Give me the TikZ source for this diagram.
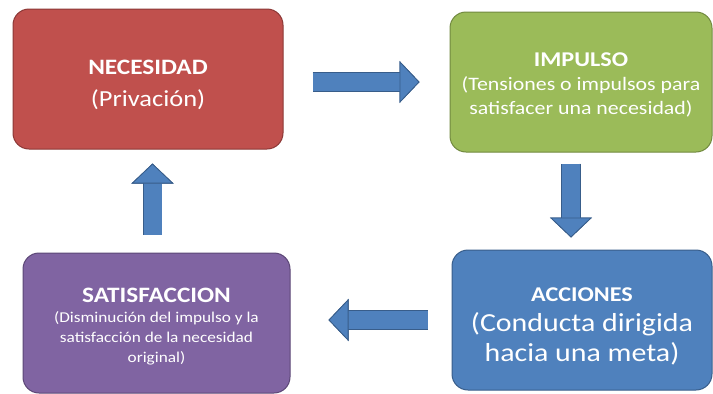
\documentclass[tikz,border=0pt]{standalone}
\usepackage{fontspec}
\setmainfont{Carlito}[FakeStretch=1.15]
\usepackage{tikz}
\usetikzlibrary{arrows.meta}

\definecolor{necred}{HTML}{C0504D}
\definecolor{necedge}{HTML}{8C3836}
\definecolor{impgreen}{HTML}{9BBB59}
\definecolor{impedge}{HTML}{71893F}
\definecolor{accblue}{HTML}{4F81BD}
\definecolor{accedge}{HTML}{385D8A}
\definecolor{satpurple}{HTML}{8064A2}
\definecolor{satedge}{HTML}{5C4776}

\begin{document}
\begin{tikzpicture}
[x = 1pt, y = -1pt,
  box/.style = {rectangle, rounded corners = 16pt, line width = 1pt,
    inner sep = 0pt, minimum height = 140pt, align = center, text = white},
  flow/.style = {line width = 18pt, draw = accblue,
    -{Triangle[width = 42pt, length = 20pt, line width = 0.8pt, color = accedge, fill = accblue]},
    preaction = {draw = accedge, line width = 19.6pt,
      -{Triangle[width = 42pt, length = 20pt, line width = 0.8pt, color = accedge, fill = accedge]}}}]
  \useasboundingbox (0,0) rectangle (713,394);

  % the four stages
  \node [box, fill = necred, draw = necedge, minimum width = 270pt,
    font = \fontsize{23}{32}\selectfont] (nec) at (148,79)
    {\rule{0pt}{26pt}\textbf{\fontsize{22}{22}\selectfont NECESIDAD}\\(Privación)};
  \node [box, fill = impgreen, draw = impedge, minimum width = 262pt,
    font = \fontsize{19}{24}\selectfont] (imp) at (581,82)
    {\rule{0pt}{20pt}\textbf{\fontsize{21}{21}\selectfont IMPULSO}\\(Tensiones o impulsos para\\satisfacer una necesidad)};
  \node [box, fill = accblue, draw = accedge, minimum width = 260pt,
    font = \fontsize{26}{30}\selectfont] (acc) at (582,320)
    {\rule{0pt}{26pt}\textbf{\fontsize{21}{21}\selectfont ACCIONES}\\(Conducta dirigida\\hacia una meta)};
  \node [box, fill = satpurple, draw = satedge, minimum width = 267pt,
    font = \fontsize{15}{20}\selectfont] (sat) at (156.5,323)
    {\rule{0pt}{22pt}\textbf{\fontsize{22}{22}\selectfont SATISFACCION}\\(Disminución del impulso y la\\satisfacción de la necesidad\\original)};

  % the cycle
  \draw [flow, shorten <= 29pt, shorten >= 30pt] (nec.east |- imp.west) -- (imp.west);
  \draw [flow, shorten <= 11pt, shorten >= 12pt] ([xshift = -10pt]imp.south) -- ([xshift = -10pt]imp.south |- acc.north);
  \draw [flow, shorten <= 24pt, shorten >= 38pt] (acc.west) -- (acc.west -| sat.east);
  \draw [flow, shorten <= 18pt, shorten >= 14pt] ([xshift = -4pt]sat.north) -- ([xshift = -4pt]sat.north |- nec.south);
\end{tikzpicture}
\end{document}
